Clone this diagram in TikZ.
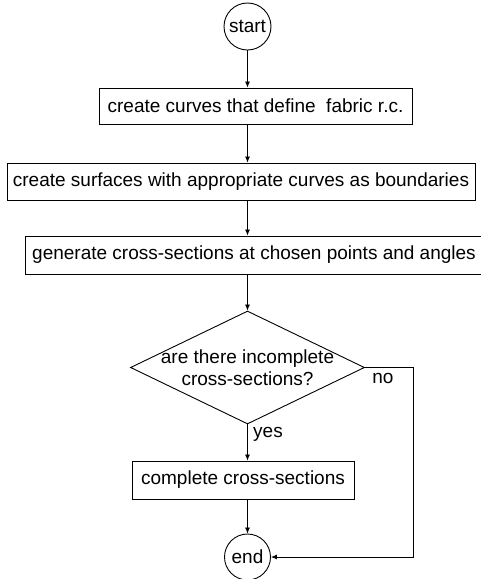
\documentclass[tikz,border=0pt]{standalone}
\usepackage{fontspec}
\setmainfont{Liberation Sans}
\usetikzlibrary{shapes.geometric,arrows.meta}
\begin{document}
\begin{tikzpicture}[x=1pt,y=-1pt,
  every node/.style={font=\fontsize{19}{22}\selectfont},
  proc/.style={draw, line width=0.9pt, rectangle, inner sep=0pt},
  term/.style={draw, circle, line width=0.9pt, minimum size=47pt, inner sep=0pt},
  dec/.style={draw, diamond, line width=0.9pt, minimum width=234pt, minimum height=113pt, inner sep=0pt, align=center},
  arr/.style={line width=0.8pt, -{Latex[length=6pt,width=5pt]}},
  lbl/.style={inner sep=0pt}]
\useasboundingbox (0,0) rectangle (481,579);
\node[term] (start) at (247.5,26.5) {start};
\node[proc, minimum width=313pt, minimum height=36pt] (b1) at (255.5,106) {create curves that define~~fabric r.c.};
\node[proc, minimum width=468pt, minimum height=37pt] (b2) at (241,181.5) {create surfaces with appropriate curves as boundaries};
\node[proc, minimum width=458pt, minimum height=38pt] (b3) at (254,255) {generate cross-sections at chosen points and angles};
\node[dec] (dec) at (247.5,367.5) {\makebox[0pt]{are there incomplete}\\\makebox[0pt]{cross-sections?}};
\node[proc, minimum width=222pt, minimum height=38pt] (b4) at (243,480) {complete cross-sections};
\node[term, minimum size=46pt] (end) at (247.5,557) {end};
\coordinate (nc) at (413,367.5);
\coordinate (nd) at (413,557);
\node[lbl] (yes) at (268,434) {yes};
\node[lbl] (no) at (383,378) {no};
\draw[arr] (start) -- (start |- b1.north);
\draw[arr] (start |- b1.south) -- (start |- b2.north);
\draw[arr] (start |- b2.south) -- (start |- b3.north);
\draw[arr] (start |- b3.south) -- (dec.north);
\draw[arr] (dec.south) -- (dec.south |- b4.north);
\draw[arr] (dec.south |- b4.south) -- (end);
\draw[arr] (dec.east) -- (nc) -- (nd) -- (end.east);
\end{tikzpicture}
\end{document}
